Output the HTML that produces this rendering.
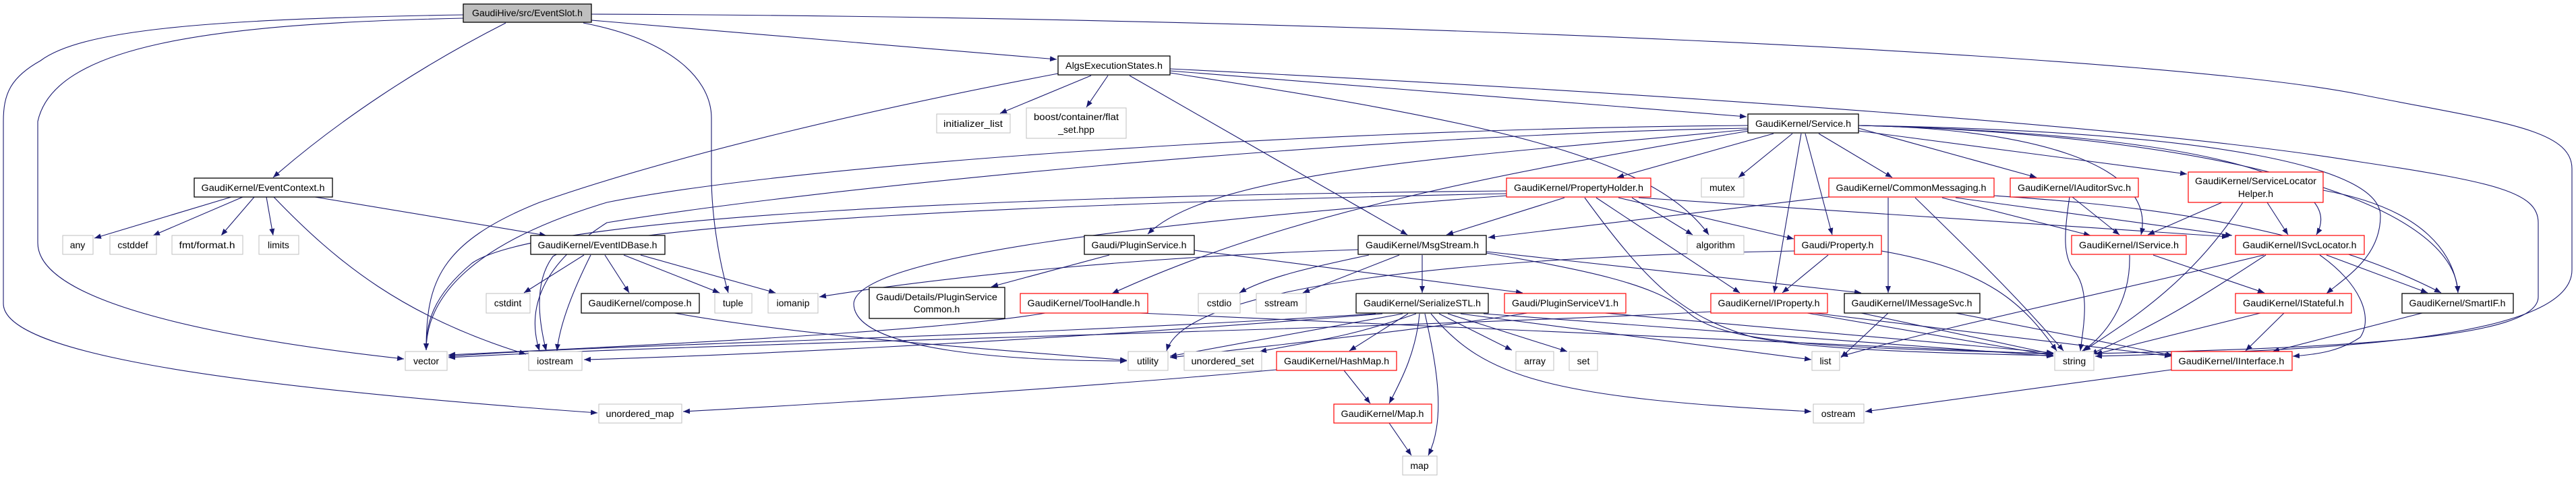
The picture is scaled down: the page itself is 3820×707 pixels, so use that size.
<!DOCTYPE html>
<html><head><meta charset="utf-8"><style>
html,body{margin:0;padding:0;background:#fff;}
svg{display:block;}
text{font-family:"Liberation Sans","DejaVu Sans",sans-serif;font-size:14px;fill:#000;}
.e{fill:none;stroke:#191970;stroke-width:1.1;marker-end:url(#a);}
.n{fill:#fff;stroke:#000;stroke-width:1.3;}
.g{fill:#fff;stroke:#bfbfbf;stroke-width:1;}
.r{fill:#fff;stroke:#ff0000;stroke-width:1.2;}
</style></head><body>
<svg width="3820" height="707" viewBox="0 0 3820 707" xmlns="http://www.w3.org/2000/svg">
<defs><marker id="a" markerUnits="userSpaceOnUse" markerWidth="11" markerHeight="8" refX="10" refY="4" orient="auto"><path d="M0,0 L10,4 L0,8 z" fill="#191970"/></marker></defs>
<g>
<path class="e" d="M687,22 C300,28 120,45 60,90 C15,115 5,140 5,180 L5,450 C5,520 300,570 886,612"/>
<path class="e" d="M687,27 C300,35 80,70 56,180 L56,360 C56,460 400,510 599,532"/>
<path class="e" d="M750,34 C620,100 500,180 405,263"/>
<path class="e" d="M877,30 L1567,88"/>
<path class="e" d="M865,34 C1000,60 1055,120 1055,175 L1055,260 C1055,330 1070,400 1080,434"/>
<path class="e" d="M877,21 C2000,25 3200,80 3500,140 C3700,180 3814,190 3814,250 L3814,400 C3814,510 3400,520 3107,528"/>
<path class="e" d="M1735,102 C2500,140 3200,190 3500,240 C3700,270 3764,285 3764,330 L3764,440 C3764,500 3500,515 3107,524"/>
<path class="e" d="M1569,109 C1300,160 1000,230 800,300 C650,360 632,420 632,519"/>
<path class="e" d="M1618,112 L1483,168"/>
<path class="e" d="M1643,112 L1611,159"/>
<path class="e" d="M1675,112 L2087,348"/>
<path class="e" d="M1735,108 C2200,180 2450,230 2534,348"/>
<path class="e" d="M1735,105 L2590,173"/>
<path class="e" d="M2592,186 C2000,190 1200,240 900,300 C700,360 632,440 632,519"/>
<path class="e" d="M2592,190 C2000,200 1200,280 900,330 C790,400 784,470 800,520"/>
<path class="e" d="M2592,192 C2200,230 1800,250 1702,347"/>
<path class="e" d="M2600,193 C2200,260 1900,320 1649,435"/>
<path class="e" d="M2630,198 L2398,263"/>
<path class="e" d="M2658,198 L2578,263"/>
<path class="e" d="M2671,198 L2631,434"/>
<path class="e" d="M2677,198 L2717,348"/>
<path class="e" d="M2697,198 L2806,263"/>
<path class="e" d="M2756,190 L3020,263"/>
<path class="e" d="M2756,194 L3243,258"/>
<path class="e" d="M2756,186 C3000,190 3200,240 3175,348"/>
<path class="e" d="M2756,186 C3300,200 3480,270 3435,348"/>
<path class="e" d="M2756,186 C3300,195 3530,250 3530,320 C3530,380 3480,410 3450,435"/>
<path class="e" d="M2756,186 C3300,200 3640,300 3645,434"/>
<path class="e" d="M2234,283 C1500,290 800,320 700,390 C640,440 632,480 632,519"/>
<path class="e" d="M2234,287 C1600,300 900,330 820,380 C790,420 800,480 810,520"/>
<path class="e" d="M2234,290 C1700,330 1270,380 1266,450 C1266,520 1500,535 1671,535"/>
<path class="e" d="M2320,293 L2145,348"/>
<path class="e" d="M2420,293 L2510,348"/>
<path class="e" d="M2400,293 L2660,354"/>
<path class="e" d="M2367,293 L2580,434"/>
<path class="e" d="M2350,293 C2450,430 2500,470 2600,500 C2700,520 2900,524 3045,527"/>
<path class="e" d="M2430,293 L3305,351"/>
<path class="e" d="M2712,292 L2207,352"/>
<path class="e" d="M2800,293 L2800,434"/>
<path class="e" d="M2840,293 C2950,400 3000,450 3060,520"/>
<path class="e" d="M2880,293 L3100,349"/>
<path class="e" d="M2900,293 L3310,349"/>
<path class="e" d="M2957,290 C3100,300 3400,320 3620,434"/>
<path class="e" d="M3073,292 L3143,348"/>
<path class="e" d="M3069,292 C3060,350 3060,380 3075,400 C3100,430 3090,480 3085,520"/>
<path class="e" d="M3295,300 L3185,348"/>
<path class="e" d="M3362,300 L3393,348"/>
<path class="e" d="M3326,300 C3250,420 3150,480 3090,520"/>
<path class="e" d="M3445,282 C3600,310 3640,380 3645,434"/>
<path class="e" d="M3158,378 C3160,450 3120,500 3088,520"/>
<path class="e" d="M3193,378 L3358,434"/>
<path class="e" d="M3360,378 C3250,450 3200,480 3100,525"/>
<path class="e" d="M3357,378 C3100,440 2900,480 2730,528"/>
<path class="e" d="M3440,378 C3500,420 3520,470 3500,500 C3470,520 3440,525 3400,528"/>
<path class="e" d="M3450,378 L3600,434"/>
<path class="e" d="M3352,464 L3107,525"/>
<path class="e" d="M3387,464 L3330,520"/>
<path class="e" d="M3592,464 L3370,521"/>
<path class="e" d="M3220,548 L2766,610"/>
<path class="e" d="M2030,378 C1950,395 1880,410 1838,434"/>
<path class="e" d="M2075,378 L1932,434"/>
<path class="e" d="M2109,378 L2109,434"/>
<path class="e" d="M2014,370 C1700,380 1400,410 1215,440"/>
<path class="e" d="M2204,373 L2760,434"/>
<path class="e" d="M2204,375 C2350,400 2450,420 2500,460 C2550,510 2700,515 3045,524"/>
<path class="e" d="M1645,378 L1470,425"/>
<path class="e" d="M1771,371 L2258,434"/>
<path class="e" d="M2088,465 L2001,520"/>
<path class="e" d="M2105,465 C2100,520 2080,560 2060,598"/>
<path class="e" d="M2113,465 C2130,540 2145,620 2118,675"/>
<path class="e" d="M2134,465 L2242,519"/>
<path class="e" d="M2147,465 L2324,521"/>
<path class="e" d="M2166,465 L2686,533"/>
<path class="e" d="M2122,465 C2200,560 2300,590 2686,610"/>
<path class="e" d="M2040,465 C1500,500 900,510 665,528"/>
<path class="e" d="M2050,465 C1500,510 1000,530 866,533"/>
<path class="e" d="M2080,465 L1735,528"/>
<path class="e" d="M2100,465 C2000,500 1950,505 1868,521"/>
<path class="e" d="M2200,465 L3045,528"/>
<path class="e" d="M1993,549 L2032,598"/>
<path class="e" d="M1893,548 C1600,575 1200,600 1013,610"/>
<path class="e" d="M2060,627 L2093,675"/>
<path class="e" d="M2711,378 L2643,434"/>
<path class="e" d="M2790,372 C2950,400 3000,450 3050,520"/>
<path class="e" d="M2661,372 C2200,380 1760,420 1730,520"/>
<path class="e" d="M2680,464 L3045,527"/>
<path class="e" d="M2690,464 L3220,528"/>
<path class="e" d="M2537,462 C2000,490 1000,510 665,530"/>
<path class="e" d="M2800,464 L2730,530"/>
<path class="e" d="M2760,464 L3045,525"/>
<path class="e" d="M2900,464 L3222,527"/>
<path class="e" d="M2380,464 L3045,523"/>
<path class="e" d="M2265,464 C2100,490 1900,510 1735,530"/>
<path class="e" d="M1690,464 L3045,525"/>
<path class="e" d="M1550,464 C1400,490 1000,510 665,526"/>
<path class="e" d="M343,292 L140,353"/>
<path class="e" d="M360,292 L227,349"/>
<path class="e" d="M377,292 L328,349"/>
<path class="e" d="M395,292 L405,349"/>
<path class="e" d="M406,292 C500,390 600,470 780,525"/>
<path class="e" d="M467,292 L810,349"/>
<path class="e" d="M866,378 L777,434"/>
<path class="e" d="M876,378 C850,430 830,480 826,520"/>
<path class="e" d="M897,378 L933,434"/>
<path class="e" d="M925,378 L1067,434"/>
<path class="e" d="M950,378 L1150,434"/>
<path class="e" d="M1000,464 C1200,500 1500,520 1671,534"/>
</g>
<g>
<rect x="687" y="6" width="190" height="27" fill="#bfbfbf" stroke="#000" stroke-width="1.3"/><text x="782" y="24" text-anchor="middle" textLength="164" lengthAdjust="spacingAndGlyphs">GaudiHive/src/EventSlot.h</text>
<rect class="n" x="1569" y="83" width="166" height="28"/><text x="1652" y="102" text-anchor="middle" textLength="144" lengthAdjust="spacingAndGlyphs">AlgsExecutionStates.h</text>
<rect class="g" x="1389" y="169" width="109" height="28"/><text x="1443" y="188" text-anchor="middle" textLength="88" lengthAdjust="spacingAndGlyphs">initializer_list</text>
<rect class="g" x="1522" y="160" width="148" height="45"/><text x="1596" y="178" text-anchor="middle" textLength="126" lengthAdjust="spacingAndGlyphs">boost/container/flat</text><text x="1596" y="197" text-anchor="middle">_set.hpp</text>
<rect class="n" x="2592" y="169" width="164" height="28"/><text x="2674" y="188" text-anchor="middle" textLength="142" lengthAdjust="spacingAndGlyphs">GaudiKernel/Service.h</text>
<rect class="n" x="288" y="264" width="205" height="28"/><text x="390" y="283" text-anchor="middle" textLength="183" lengthAdjust="spacingAndGlyphs">GaudiKernel/EventContext.h</text>
<rect class="r" x="2234" y="264" width="214" height="28"/><text x="2341" y="283" text-anchor="middle" textLength="192" lengthAdjust="spacingAndGlyphs">GaudiKernel/PropertyHolder.h</text>
<rect class="g" x="2523" y="264" width="63" height="28"/><text x="2554" y="283" text-anchor="middle">mutex</text>
<rect class="r" x="2712" y="264" width="245" height="28"/><text x="2834" y="283" text-anchor="middle" textLength="223" lengthAdjust="spacingAndGlyphs">GaudiKernel/CommonMessaging.h</text>
<rect class="r" x="2981" y="264" width="190" height="28"/><text x="3076" y="283" text-anchor="middle" textLength="168" lengthAdjust="spacingAndGlyphs">GaudiKernel/IAuditorSvc.h</text>
<rect class="r" x="3245" y="255" width="200" height="45"/><text x="3345" y="273" text-anchor="middle" textLength="180" lengthAdjust="spacingAndGlyphs">GaudiKernel/ServiceLocator</text><text x="3345" y="292" text-anchor="middle">Helper.h</text>
<rect class="g" x="93" y="349" width="45" height="28"/><text x="115" y="368" text-anchor="middle">any</text>
<rect class="g" x="163" y="349" width="69" height="28"/><text x="197" y="368" text-anchor="middle">cstddef</text>
<rect class="g" x="255" y="349" width="105" height="28"/><text x="307" y="368" text-anchor="middle" textLength="83" lengthAdjust="spacingAndGlyphs">fmt/format.h</text>
<rect class="g" x="384" y="349" width="59" height="28"/><text x="413" y="368" text-anchor="middle">limits</text>
<rect class="n" x="787" y="349" width="199" height="28"/><text x="886" y="368" text-anchor="middle" textLength="177" lengthAdjust="spacingAndGlyphs">GaudiKernel/EventIDBase.h</text>
<rect class="n" x="1608" y="349" width="163" height="28"/><text x="1689" y="368" text-anchor="middle" textLength="141" lengthAdjust="spacingAndGlyphs">Gaudi/PluginService.h</text>
<rect class="n" x="2014" y="349" width="190" height="28"/><text x="2109" y="368" text-anchor="middle" textLength="168" lengthAdjust="spacingAndGlyphs">GaudiKernel/MsgStream.h</text>
<rect class="g" x="2502" y="349" width="84" height="28"/><text x="2544" y="368" text-anchor="middle">algorithm</text>
<rect class="r" x="2661" y="349" width="129" height="28"/><text x="2725" y="368" text-anchor="middle" textLength="107" lengthAdjust="spacingAndGlyphs">Gaudi/Property.h</text>
<rect class="r" x="3072" y="349" width="170" height="28"/><text x="3157" y="368" text-anchor="middle" textLength="148" lengthAdjust="spacingAndGlyphs">GaudiKernel/IService.h</text>
<rect class="r" x="3315" y="349" width="191" height="28"/><text x="3410" y="368" text-anchor="middle" textLength="169" lengthAdjust="spacingAndGlyphs">GaudiKernel/ISvcLocator.h</text>
<rect class="g" x="721" y="435" width="65" height="29"/><text x="753" y="454" text-anchor="middle">cstdint</text>
<rect class="n" x="862" y="435" width="175" height="29"/><text x="949" y="454" text-anchor="middle" textLength="153" lengthAdjust="spacingAndGlyphs">GaudiKernel/compose.h</text>
<rect class="g" x="1060" y="435" width="55" height="29"/><text x="1087" y="454" text-anchor="middle">tuple</text>
<rect class="g" x="1139" y="435" width="74" height="29"/><text x="1176" y="454" text-anchor="middle">iomanip</text>
<rect class="n" x="1289" y="426" width="201" height="46"/><text x="1389" y="445" text-anchor="middle" textLength="180" lengthAdjust="spacingAndGlyphs">Gaudi/Details/PluginService</text><text x="1389" y="463" text-anchor="middle">Common.h</text>
<rect class="r" x="1513" y="435" width="189" height="29"/><text x="1607" y="454" text-anchor="middle" textLength="167" lengthAdjust="spacingAndGlyphs">GaudiKernel/ToolHandle.h</text>
<rect class="g" x="1777" y="435" width="62" height="29"/><text x="1808" y="454" text-anchor="middle">cstdio</text>
<rect class="g" x="1863" y="435" width="74" height="29"/><text x="1900" y="454" text-anchor="middle">sstream</text>
<rect class="n" x="2011" y="435" width="196" height="29"/><text x="2109" y="454" text-anchor="middle" textLength="174" lengthAdjust="spacingAndGlyphs">GaudiKernel/SerializeSTL.h</text>
<rect class="r" x="2231" y="435" width="180" height="29"/><text x="2321" y="454" text-anchor="middle" textLength="158" lengthAdjust="spacingAndGlyphs">Gaudi/PluginServiceV1.h</text>
<rect class="r" x="2537" y="435" width="173" height="29"/><text x="2623" y="454" text-anchor="middle" textLength="151" lengthAdjust="spacingAndGlyphs">GaudiKernel/IProperty.h</text>
<rect class="n" x="2735" y="435" width="201" height="29"/><text x="2835" y="454" text-anchor="middle" textLength="179" lengthAdjust="spacingAndGlyphs">GaudiKernel/IMessageSvc.h</text>
<rect class="r" x="3315" y="435" width="172" height="29"/><text x="3401" y="454" text-anchor="middle" textLength="150" lengthAdjust="spacingAndGlyphs">GaudiKernel/IStateful.h</text>
<rect class="n" x="3562" y="435" width="165" height="29"/><text x="3644" y="454" text-anchor="middle" textLength="143" lengthAdjust="spacingAndGlyphs">GaudiKernel/SmartIF.h</text>
<rect class="g" x="601" y="521" width="62" height="28"/><text x="632" y="540" text-anchor="middle">vector</text>
<rect class="g" x="784" y="521" width="79" height="28"/><text x="823" y="540" text-anchor="middle">iostream</text>
<rect class="g" x="1673" y="521" width="59" height="28"/><text x="1702" y="540" text-anchor="middle">utility</text>
<rect class="g" x="1756" y="521" width="115" height="28"/><text x="1813" y="540" text-anchor="middle" textLength="93" lengthAdjust="spacingAndGlyphs">unordered_set</text>
<rect class="r" x="1893" y="521" width="178" height="28"/><text x="1982" y="540" text-anchor="middle" textLength="156" lengthAdjust="spacingAndGlyphs">GaudiKernel/HashMap.h</text>
<rect class="g" x="2248" y="521" width="56" height="28"/><text x="2276" y="540" text-anchor="middle">array</text>
<rect class="g" x="2327" y="521" width="42" height="28"/><text x="2348" y="540" text-anchor="middle">set</text>
<rect class="g" x="2687" y="521" width="41" height="28"/><text x="2707" y="540" text-anchor="middle">list</text>
<rect class="g" x="3047" y="521" width="58" height="28"/><text x="3076" y="540" text-anchor="middle">string</text>
<rect class="r" x="3220" y="521" width="179" height="28"/><text x="3309" y="540" text-anchor="middle" textLength="157" lengthAdjust="spacingAndGlyphs">GaudiKernel/IInterface.h</text>
<rect class="g" x="888" y="599" width="123" height="28"/><text x="949" y="618" text-anchor="middle" textLength="101" lengthAdjust="spacingAndGlyphs">unordered_map</text>
<rect class="r" x="1978" y="599" width="145" height="28"/><text x="2050" y="618" text-anchor="middle" textLength="123" lengthAdjust="spacingAndGlyphs">GaudiKernel/Map.h</text>
<rect class="g" x="2689" y="599" width="75" height="28"/><text x="2726" y="618" text-anchor="middle">ostream</text>
<rect class="g" x="2080" y="676" width="51" height="28"/><text x="2105" y="695" text-anchor="middle">map</text>
</g>
</svg>
</body></html>
